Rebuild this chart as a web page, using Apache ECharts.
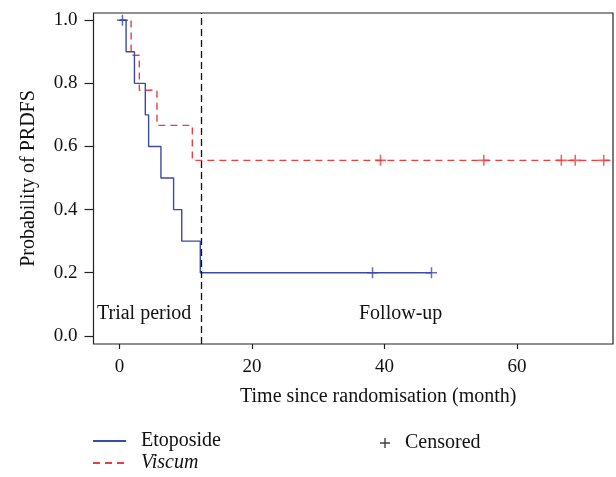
<!DOCTYPE html>
<html>
<head>
<meta charset="utf-8">
<script src="https://cdn.jsdelivr.net/npm/echarts@6/dist/echarts.min.js"></script>
<style>
  html, body { margin: 0; padding: 0; background: #fff; }
  #main { width: 616px; height: 477px; }
</style>
</head>
<body>
<div id="main"></div>
<script>
// survival steps: [month, probability]
var etoposide = [[0, 1.0], [1.0, 0.9], [2.26, 0.8], [3.9, 0.7], [4.4, 0.6], [6.26, 0.5], [8.17, 0.4], [9.4, 0.3], [12.2, 0.2], [47.1, 0.2]];
var viscum = [[0, 1.0], [1.76, 0.889], [3.0, 0.778], [5.66, 0.667], [11.0, 0.556], [76, 0.556]];
// censored observations
var etoCensored = [[0.45, 1.0], [38.2, 0.2], [47.1, 0.2]];
var visCensored = [[39.4, 0.556], [55.0, 0.556], [66.7, 0.556], [68.8, 0.556], [73.1, 0.556]];
var trialEnd = 12.3;
var xTicks = [0, 20, 40, 60];
var yTicks = [0, 0.2, 0.4, 0.6, 0.8, 1.0];

var blue = '#3a4aa8';
var red = '#f03c3c';
var font = 'Liberation Serif';
var plus = 'path://M4.3,0 H5.7 V4.3 H10 V5.7 H5.7 V10 H4.3 V5.7 H0 V4.3 H4.3 Z';

var dom = document.getElementById('main');
var myChart = echarts.init(dom);

var censoredData = [];
etoCensored.forEach(function (p) {
    censoredData.push({ value: p, itemStyle: { color: blue } });
});
visCensored.forEach(function (p) {
    censoredData.push({ value: p, itemStyle: { color: red } });
});

var legendText = {
    fontFamily: font, fontSize: 20, color: '#111', padding: [0, 0, 0, 10],
    rich: { i: { fontFamily: font, fontSize: 20, fontStyle: 'italic', color: '#111' } }
};
function lineLegend(name, top) {
    return {
        left: 92, top: top, padding: 0,
        itemWidth: 33, itemHeight: 14,
        itemStyle: { opacity: 0 },
        data: [name],
        formatter: function (n) { return n === 'Viscum' ? '{i|Viscum}' : n; },
        textStyle: legendText
    };
}

var option = {
    animation: false,
    textStyle: { fontFamily: font },
    grid: {
        left: 93.5, right: 3, top: 13, bottom: 133,
        show: true, borderColor: '#222', borderWidth: 1.2
    },
    legend: [
        lineLegend('Etoposide', 431),
        lineLegend('Viscum', 453),
        {
            left: 380, top: 433, padding: 0,
            itemWidth: 10, itemHeight: 10,
            data: [{ name: 'Censored', icon: plus }],
            textStyle: legendText
        }
    ],
    xAxis: {
        type: 'value',
        min: -3.92, max: 74.5,
        name: 'Time since randomisation (month)',
        nameLocation: 'middle',
        nameGap: 43,
        nameTextStyle: { fontFamily: font, fontSize: 20, color: '#111', padding: [0, 0, 0, 50] },
        axisLine: { show: false, onZero: false },
        axisTick: { show: true, length: 5, customValues: xTicks, lineStyle: { color: '#222', width: 1.2 } },
        axisLabel: { customValues: xTicks, margin: 14, fontFamily: font, fontSize: 19, color: '#111' },
        splitLine: { show: false }
    },
    yAxis: {
        type: 'value',
        min: -0.026, max: 1.023,
        name: 'Probability of PRDFS',
        nameLocation: 'middle',
        nameGap: 55,
        nameTextStyle: { fontFamily: font, fontSize: 20, color: '#111' },
        axisLine: { show: false, onZero: false },
        axisTick: { show: true, length: 9, customValues: yTicks, lineStyle: { color: '#222', width: 1.2 } },
        axisLabel: {
            customValues: yTicks, margin: 16, fontFamily: font, fontSize: 19, color: '#111',
            formatter: function (v) { return v.toFixed(1); }
        },
        splitLine: { show: false }
    },
    series: [{
        name: 'Etoposide',
        type: 'line',
        step: 'end',
        symbol: 'none',
        data: etoposide,
        lineStyle: { color: blue, width: 1.4 },
        itemStyle: { color: blue },
        z: 3,
        markLine: {
            silent: true,
            symbol: 'none',
            label: { show: false },
            lineStyle: { color: '#111', type: [7, 4], width: 1.3 },
            data: [{ xAxis: trialEnd }]
        }
    }, {
        name: 'Viscum',
        type: 'line',
        step: 'end',
        symbol: 'none',
        data: viscum,
        lineStyle: { color: red, width: 1.4, type: [7, 5] },
        itemStyle: { color: red },
        z: 2
    }, {
        name: 'Censored',
        type: 'scatter',
        symbol: plus,
        symbolSize: 11,
        itemStyle: { color: '#111' },
        data: censoredData,
        z: 4
    }],
    graphic: [{
        type: 'text',
        left: 97, top: 304,
        style: { text: 'Trial period', font: '20px "Liberation Serif"', fill: '#111' }
    }, {
        type: 'text',
        left: 359, top: 304,
        style: { text: 'Follow-up', font: '20px "Liberation Serif"', fill: '#111' }
    }]
};

if (option && typeof option === 'object') {
    myChart.setOption(option, true);
}
</script>
</body>
</html>
